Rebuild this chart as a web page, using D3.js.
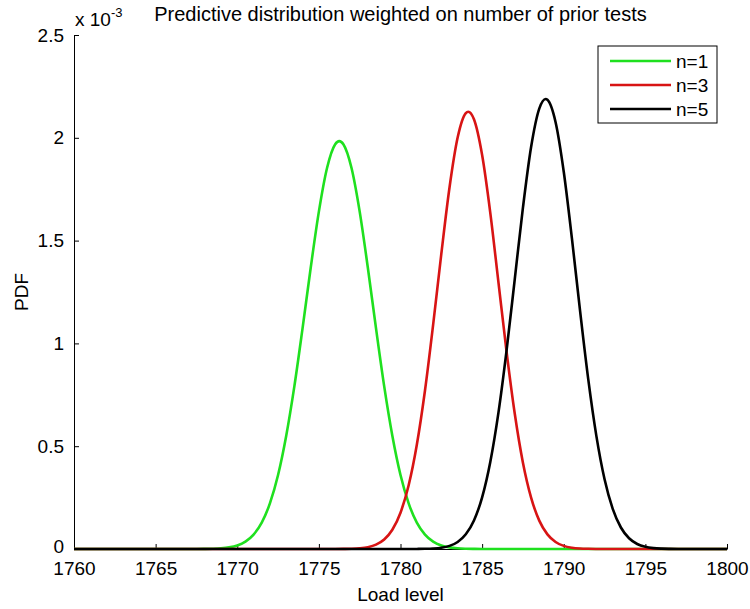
<!DOCTYPE html>
<html>
<head>
<meta charset="utf-8">
<script src="https://cdn.jsdelivr.net/npm/d3@7"></script>
<style>
  html, body { margin: 0; padding: 0; background: #fff; }
  svg { display: block; font-family: "Liberation Sans", Arial, sans-serif; }
</style>
</head>
<body>
<svg id="chart" width="750" height="609"></svg>
<script>
// Predictive PDF (in units of 1e-3) against load level, one series per number of prior tests.
const loadN1 = [1760, 1765, 1767.5, 1768, 1768.5, 1769, 1769.5, 1770, 1770.5, 1771, 1771.5, 1772, 1772.5, 1773, 1773.5, 1774, 1774.5, 1775, 1775.5, 1776, 1776.25, 1776.5, 1777, 1777.5, 1778, 1778.5, 1779, 1779.5, 1780, 1780.5, 1781, 1781.5, 1782, 1782.5, 1783, 1783.5, 1784, 1784.5, 1785, 1790, 1800];
const pdfN1  = [0, 0, 0, 0.0005, 0.0014, 0.0034, 0.0079, 0.0173, 0.0359, 0.070, 0.128, 0.222, 0.360, 0.551, 0.792, 1.073, 1.368, 1.641, 1.853, 1.969, 1.984, 1.969, 1.853, 1.641, 1.368, 1.073, 0.792, 0.551, 0.360, 0.222, 0.128, 0.070, 0.0359, 0.0173, 0.0079, 0.0034, 0.0014, 0.0005, 0, 0, 0];

const loadN3 = [1760, 1770, 1775.5, 1776, 1776.5, 1777, 1777.5, 1778, 1778.5, 1779, 1779.5, 1780, 1780.5, 1781, 1781.5, 1782, 1782.5, 1783, 1783.5, 1784, 1784.15, 1784.5, 1785, 1785.5, 1786, 1786.5, 1787, 1787.5, 1788, 1788.5, 1789, 1789.5, 1790, 1790.5, 1791, 1791.5, 1792, 1792.5, 1793, 1800];
const pdfN3  = [0, 0, 0, 0.0001, 0.0005, 0.0013, 0.0036, 0.0090, 0.0211, 0.0461, 0.0934, 0.1765, 0.310, 0.507, 0.771, 1.091, 1.435, 1.757, 2.001, 2.120, 2.127, 2.090, 1.916, 1.635, 1.297, 0.958, 0.658, 0.420, 0.250, 0.138, 0.0711, 0.0340, 0.0151, 0.0063, 0.0024, 0.0009, 0.0003, 0.0001, 0, 0];

const loadN5 = [1760, 1770, 1780.5, 1781, 1781.5, 1782, 1782.5, 1783, 1783.5, 1784, 1784.5, 1785, 1785.5, 1786, 1786.5, 1787, 1787.5, 1788, 1788.5, 1788.89, 1789, 1789.5, 1790, 1790.5, 1791, 1791.5, 1792, 1792.5, 1793, 1793.5, 1794, 1794.5, 1795, 1795.5, 1796, 1796.5, 1797, 1797.5, 1800];
const pdfN5  = [0, 0, 0, 0.0003, 0.0009, 0.0025, 0.0064, 0.0153, 0.0343, 0.0716, 0.139, 0.251, 0.423, 0.663, 0.967, 1.313, 1.660, 1.955, 2.142, 2.189, 2.185, 2.076, 1.835, 1.511, 1.158, 0.826, 0.549, 0.339, 0.195, 0.1046, 0.0522, 0.0243, 0.0105, 0.0042, 0.0016, 0.0006, 0.0002, 0, 0];

const seriesNames  = ["n=1", "n=3", "n=5"];
const seriesColors = ["#1fe01f", "#d81414", "#000000"];

const xTicks = [1760, 1765, 1770, 1775, 1780, 1785, 1790, 1795, 1800];
const yTicks = [0, 0.5, 1, 1.5, 2, 2.5];

const series = [
  { name: seriesNames[0], color: seriesColors[0], pts: loadN1.map((x, i) => [x, pdfN1[i]]) },
  { name: seriesNames[1], color: seriesColors[1], pts: loadN3.map((x, i) => [x, pdfN3[i]]) },
  { name: seriesNames[2], color: seriesColors[2], pts: loadN5.map((x, i) => [x, pdfN5[i]]) }
];

const svg = d3.select("#chart");
const margin = { left: 74, right: 23, top: 35, bottom: 60 };
const W = 750, H = 609;
const x = d3.scaleLinear().domain([1760, 1800]).range([margin.left, W - margin.right]);
const y = d3.scaleLinear().domain([0, 2.5]).range([H - margin.bottom, margin.top]);

const fontSize = 19;

const line = d3.line().x(d => x(d[0])).y(d => y(d[1])).curve(d3.curveMonotoneX);

// x axis, ticks pointing into the plot
const xAxis = svg.append("g")
  .attr("transform", `translate(0,${y(0)})`)
  .call(d3.axisBottom(x).tickValues(xTicks).tickFormat(d3.format("d")).tickSizeInner(-5).tickSizeOuter(0).tickPadding(13));
xAxis.selectAll("text").attr("font-size", fontSize).attr("fill", "#000").attr("dy", "0.71em");
xAxis.selectAll("line, path").attr("stroke", "#000");

// y axis
const yAxis = svg.append("g")
  .attr("transform", `translate(${x(1760)},0)`)
  .call(d3.axisLeft(y).tickValues(yTicks).tickFormat(d => d3.format("~g")(d)).tickSizeInner(-5).tickSizeOuter(0).tickPadding(10));
yAxis.selectAll("text").attr("font-size", fontSize).attr("fill", "#000");
// the zero label sits just clear of the first x label
yAxis.selectAll(".tick").filter(d => d === 0).select("text").attr("dy", "0.2em");
yAxis.selectAll("line, path").attr("stroke", "#000");
svg.selectAll(".domain").attr("stroke-width", 1);

// curves
svg.append("g").selectAll("path")
  .data(series)
  .join("path")
  .attr("d", d => line(d.pts))
  .attr("fill", "none")
  .attr("stroke", d => d.color)
  .attr("stroke-width", 2.6)
  .attr("stroke-linejoin", "round");

// exponent label
const expo = svg.append("text")
  .attr("x", x(1760) + 1)
  .attr("y", 26)
  .attr("font-size", fontSize)
  .attr("fill", "#000");
expo.append("tspan").text("x 10");
expo.append("tspan").attr("dy", -9).attr("font-size", 13).text("-3");

// title
svg.append("text")
  .attr("x", (x(1760) + x(1800)) / 2)
  .attr("y", 21)
  .attr("text-anchor", "middle")
  .attr("font-size", 20)
  .attr("fill", "#000")
  .text("Predictive distribution weighted on number of prior tests");

// axis labels
svg.append("text")
  .attr("x", (x(1760) + x(1800)) / 2)
  .attr("y", 601)
  .attr("text-anchor", "middle")
  .attr("font-size", fontSize)
  .attr("fill", "#000")
  .text("Load level");

svg.append("text")
  .attr("transform", `translate(28,${(y(0) + y(2.5)) / 2}) rotate(-90)`)
  .attr("text-anchor", "middle")
  .attr("font-size", fontSize)
  .attr("fill", "#000")
  .text("PDF");

// legend
const lg = svg.append("g").attr("transform", "translate(598,46)");
lg.append("rect").attr("width", 119).attr("height", 77).attr("fill", "#fff").attr("stroke", "#000").attr("stroke-width", 1);
const rows = lg.selectAll("g.row").data(series).join("g")
  .attr("class", "row")
  .attr("transform", (d, i) => `translate(0,${15 + i * 24})`);
rows.append("line").attr("x1", 12).attr("x2", 73).attr("stroke", d => d.color).attr("stroke-width", 2.6);
rows.append("text").attr("x", 78).attr("y", 7).attr("font-size", fontSize).attr("fill", "#000").text(d => d.name);
</script>
</body>
</html>
